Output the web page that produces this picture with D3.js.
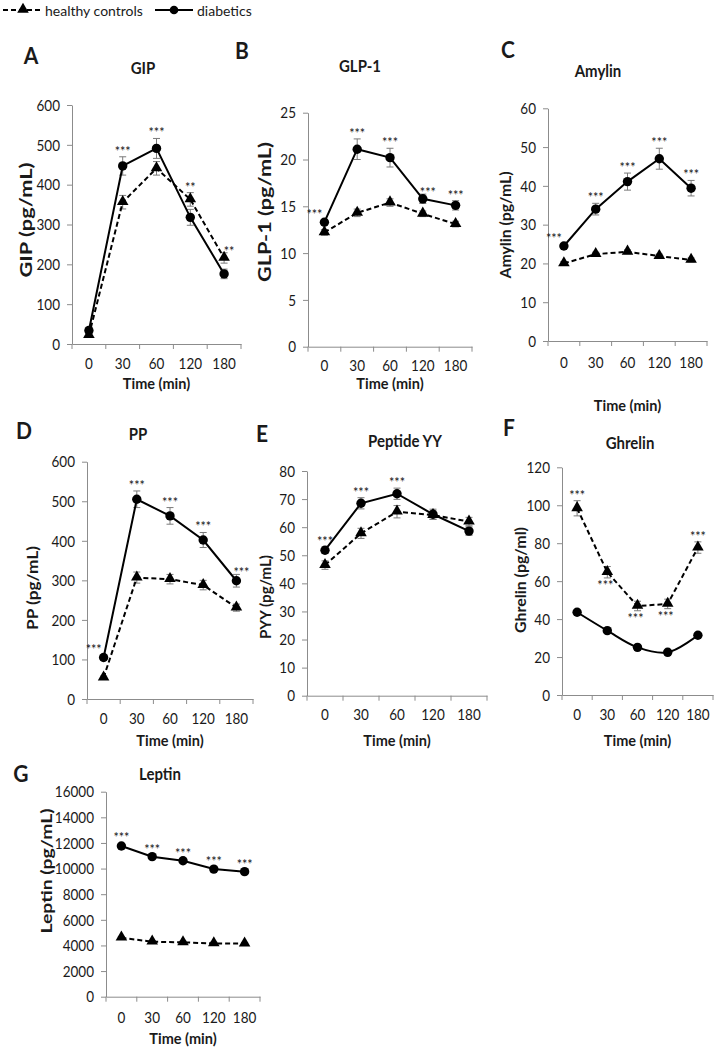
<!DOCTYPE html>
<html><head><meta charset="utf-8">
<script src="https://cdn.jsdelivr.net/npm/d3@7"></script>
<style>body{margin:0;background:#fff} svg{display:block} text{font-family:Lato,"Open Sans",sans-serif;fill:#1a1a1a}</style>
</head><body><svg id="c" width="719" height="1052"></svg>
<script>
const categories = ["0","30","60","120","180"];
const seriesNames = ["healthy controls","diabetics"];

// A: GIP
const gipDiabetics = [34,447,491,318,176];
const gipDiabeticsErr = [8,23,25,20,12];
const gipControls = [22,356,441,363,216];
const gipControlsErr = [5,17,17,17,13];
const gipStars = ["","***","***","**","**"];
const gipStarSeries = ["","d","d","c","c"];
const gipStarPlace = ["","above","above","above","ur"];
const gipTicks = [0,100,200,300,400,500,600];

// B: GLP-1
const glpDiabetics = [13.3,21.1,20.2,15.8,15.1];
const glpDiabeticsErr = [0.3,1.1,1.0,0.5,0.5];
const glpControls = [12.2,14.3,15.4,14.2,13.1];
const glpControlsErr = [0.3,0.4,0.4,0.3,0.3];
const glpStars = ["***","***","***","***","***"];
const glpStarSeries = ["d","d","d","d","d"];
const glpStarPlace = ["left","above","above","ur","above"];
const glpTicks = [0,5,10,15,20,25];

// C: Amylin
const amyDiabetics = [24.5,34,41.1,47,39.4];
const amyDiabeticsErr = [0.6,1.5,2.2,2.7,2.0];
const amyControls = [20,22.4,23,21.9,20.9];
const amyControlsErr = [0.5,0.5,0.5,0.5,0.5];
const amyStars = ["***","***","***","***","***"];
const amyStarSeries = ["d","d","d","d","d"];
const amyStarPlace = ["left","above","above","above","above"];
const amyTicks = [0,10,20,30,40,50,60];

// D: PP
const ppDiabetics = [105,505,463,402,299];
const ppDiabeticsErr = [6,21,21,19,16];
const ppControls = [54,307,303,288,231];
const ppControlsErr = [4,14,12,12,9];
const ppStars = ["***","***","***","***","***"];
const ppStarSeries = ["d","d","d","d","d"];
const ppStarPlace = ["left","above","above","above","ur"];
const ppTicks = [0,100,200,300,400,500,600];

// E: Peptide YY
const pyyDiabetics = [51.8,68.5,71.9,64.6,58.6];
const pyyDiabeticsErr = [1.2,2,2,1.8,1.5];
const pyyControls = [46.5,57.8,65.5,64.3,62];
const pyyControlsErr = [1.5,1.8,2.2,1.5,1.5];
const pyyStars = ["***","***","***","",""];
const pyyStarSeries = ["d","d","d","",""];
const pyyStarPlace = ["above","above","above","",""];
const pyyTicks = [0,10,20,30,40,50,60,70,80];

// F: Ghrelin
const ghrDiabetics = [43.6,33.9,25.1,22.5,31.5];
const ghrDiabeticsErr = [0.8,0.8,0.8,0.8,0.8];
const ghrControls = [98.4,64.7,46.9,48,77.7];
const ghrControlsErr = [4,3,2.5,2.5,3];
const ghrStars = ["***","***","***","***","***"];
const ghrStarSeries = ["c","c","c","c","c"];
const ghrStarPlace = ["above","below","below","below","above"];
const ghrTicks = [0,20,40,60,80,100,120];

// G: Leptin
const lepDiabetics = [11760,10930,10610,9960,9760];
const lepDiabeticsErr = [200,150,150,150,150];
const lepControls = [4600,4290,4240,4160,4140];
const lepControlsErr = [100,100,100,100,100];
const lepStars = ["***","***","***","***","***"];
const lepStarSeries = ["d","d","d","d","d"];
const lepStarPlace = ["above","above","above","above","above"];
const lepTicks = [0,2000,4000,6000,8000,10000,12000,14000,16000];

const panels = [
 {letter:"A",title:"GIP",ylab:"GIP (pg/mL)",d:gipDiabetics,de:gipDiabeticsErr,c:gipControls,ce:gipControlsErr,stars:gipStars,ss:gipStarSeries,sp:gipStarPlace,ticks:gipTicks,smooth:false,
  x0:72,x1:241,yTop:105,yBot:344,letterPos:[31,55],titlePos:[143,67],ylabPos:[25,220],ylabLen:115,ylabSize:17,timeY:383,labY:363},
 {letter:"B",title:"GLP-1",ylab:"GLP-1 (pg/mL)",d:glpDiabetics,de:glpDiabeticsErr,c:glpControls,ce:glpControlsErr,stars:glpStars,ss:glpStarSeries,sp:glpStarPlace,ticks:glpTicks,smooth:false,
  x0:308,x1:472,yTop:112.7,yBot:346.7,letterPos:[242,50],titlePos:[360,65],ylabPos:[265,212],ylabLen:140,ylabSize:16.5,timeY:383,labY:365},
 {letter:"C",title:"Amylin",ylab:"Amylin (pg/mL)",d:amyDiabetics,de:amyDiabeticsErr,c:amyControls,ce:amyControlsErr,stars:amyStars,ss:amyStarSeries,sp:amyStarPlace,ticks:amyTicks,smooth:false,
  x0:548,x1:707,yTop:108.3,yBot:341,letterPos:[508,49],titlePos:[598,70],ylabPos:[505,225],ylabLen:107,ylabSize:15,timeY:405,labY:362},
 {letter:"D",title:"PP",ylab:"PP (pg/mL)",d:ppDiabetics,de:ppDiabeticsErr,c:ppControls,ce:ppControlsErr,stars:ppStars,ss:ppStarSeries,sp:ppStarPlace,ticks:ppTicks,smooth:false,
  x0:87,x1:253,yTop:461.7,yBot:699,letterPos:[24,430],titlePos:[138,433],ylabPos:[32,588],ylabLen:84,ylabSize:15,timeY:740,labY:718},
 {letter:"E",title:"Peptide YY",ylab:"PYY (pg/mL)",d:pyyDiabetics,de:pyyDiabeticsErr,c:pyyControls,ce:pyyControlsErr,stars:pyyStars,ss:pyyStarSeries,sp:pyyStarPlace,ticks:pyyTicks,smooth:false,
  x0:307,x1:487,yTop:471,yBot:695.7,letterPos:[262,433],titlePos:[405,440],ylabPos:[265,597],ylabLen:84,ylabSize:15,timeY:740,labY:714},
 {letter:"F",title:"Ghrelin",ylab:"Ghrelin (pg/ml)",d:ghrDiabetics,de:ghrDiabeticsErr,c:ghrControls,ce:ghrControlsErr,stars:ghrStars,ss:ghrStarSeries,sp:ghrStarPlace,ticks:ghrTicks,smooth:true,
  x0:562,x1:713,yTop:467.3,yBot:695,letterPos:[509,427],titlePos:[630,442],ylabPos:[520,580],ylabLen:106,ylabSize:15,timeY:740,labY:714},
 {letter:"G",title:"Leptin",ylab:"Leptin (pg/mL)",d:lepDiabetics,de:lepDiabeticsErr,c:lepControls,ce:lepControlsErr,stars:lepStars,ss:lepStarSeries,sp:lepStarPlace,ticks:lepTicks,smooth:false,
  x0:106,x1:260,yTop:791.7,yBot:996.7,letterPos:[21,773],titlePos:[160,773],ylabPos:[45,871],ylabLen:125,ylabSize:16,timeY:1038,labY:1017}
];

const svg = d3.select("#c");
const AX = "#8c8c8c", ERR = "#7a7a7a";
const SY = 1.1;
function txt(g, s, x, y, opts) {
  const t = g.append("text").text(s)
    .attr("transform", `translate(${x},${y}) scale(1,${opts.sy || SY})` + (opts.rot ? " rotate(-90)" : ""))
    .attr("text-anchor", opts.anchor || "middle")
    .attr("dominant-baseline", opts.base || "central")
    .attr("font-size", opts.size || 12)
    .attr("font-weight", opts.bold ? "bold" : "normal");
  if (opts.len) t.attr("textLength", opts.len).attr("lengthAdjust", "spacingAndGlyphs");
  if (opts.fill) t.style("fill", opts.fill);
  return t;
}
const tri = d3.symbol().type(d3.symbolTriangle).size(58);

// legend
const lg = svg.append("g");
lg.append("line").attr("x1",3).attr("x2",42).attr("y1",10).attr("y2",10).attr("stroke","#000").attr("stroke-width",2).attr("stroke-dasharray","5,3");
lg.append("path").attr("d",tri).attr("transform","translate(23,9.5)").attr("fill","#000");
txt(lg, seriesNames[0], 45, 10, {anchor:"start", size:14, sy:1});
lg.append("line").attr("x1",155).attr("x2",193).attr("y1",10).attr("y2",10).attr("stroke","#000").attr("stroke-width",2);
lg.append("circle").attr("cx",174).attr("cy",10).attr("r",4.3).attr("fill","#000");
txt(lg, seriesNames[1], 197, 10, {anchor:"start", size:14, sy:1});

panels.forEach(p => {
  const g = svg.append("g");
  const x = d3.scaleBand().domain(categories).range([p.x0, p.x1]).padding(0);
  const y = d3.scaleLinear().domain([p.ticks[0], p.ticks[p.ticks.length-1]]).range([p.yBot, p.yTop]);
  const cx = c => x(c) + x.bandwidth()/2;

  // y axis
  const ya = g.append("g").attr("transform",`translate(${p.x0},0)`)
    .call(d3.axisLeft(y).tickValues(p.ticks).tickSize(5).tickSizeOuter(0).tickFormat(""));
  ya.selectAll("path,line").attr("stroke",AX).attr("stroke-width",1);
  p.ticks.forEach(v => txt(g, String(v), p.x0 - 12, y(v), {anchor:"end", size:13.5}));

  // x axis
  const xa = g.append("g").attr("transform",`translate(0,${p.yBot})`)
    .call(d3.axisBottom(x).tickSize(0).tickSizeOuter(0).tickFormat(""));
  xa.selectAll("path").attr("stroke",AX).attr("stroke-width",1);
  const bounds = categories.map(c => x(c)).concat([x.range()[1]]);
  g.selectAll(".xt").data(bounds).enter().append("line")
    .attr("x1",d=>d).attr("x2",d=>d).attr("y1",p.yBot).attr("y2",p.yBot+5)
    .attr("stroke",AX);
  categories.forEach(c => txt(g, c, cx(c), p.labY, {size:13.5}));
  txt(g, "Time (min)", (p.x0+p.x1)/2, p.timeY, {bold:true, size:14.5});

  // texts
  txt(g, p.letter, p.letterPos[0], p.letterPos[1], {bold:true, size:21});
  txt(g, p.title, p.titlePos[0], p.titlePos[1], {bold:true, size:15});
  txt(g, p.ylab, p.ylabPos[0], p.ylabPos[1], {bold:true, size:p.ylabSize, rot:true, sy:1, len:p.ylabLen});

  const series = [
    {vals:p.c, err:p.ce, dash:"5,3", key:"c", curve:d3.curveLinear},
    {vals:p.d, err:p.de, dash:null, key:"d", curve:p.smooth ? d3.curveCatmullRom : d3.curveLinear}
  ];
  // error bars
  series.forEach(s => {
    s.vals.forEach((v,i) => {
      const xx = cx(categories[i]);
      const e = s.err[i];
      g.append("line").attr("x1",xx).attr("x2",xx).attr("y1",y(v-e)).attr("y2",y(v+e)).attr("stroke",ERR).attr("stroke-width",1);
      [v-e, v+e].forEach(w => g.append("line").attr("x1",xx-3.5).attr("x2",xx+3.5).attr("y1",y(w)).attr("y2",y(w)).attr("stroke",ERR).attr("stroke-width",1));
    });
  });
  // lines & markers
  series.forEach(s => {
    const line = d3.line().x((v,i)=>cx(categories[i])).y(v=>y(v)).curve(s.curve);
    g.append("path").attr("d",line(s.vals)).attr("fill","none").attr("stroke","#000").attr("stroke-width",2)
      .attr("stroke-dasharray",s.dash);
    s.vals.forEach((v,i) => {
      if (s.key === "d") g.append("circle").attr("cx",cx(categories[i])).attr("cy",y(v)).attr("r",4.7).attr("fill","#000");
      else g.append("path").attr("d",tri).attr("transform",`translate(${cx(categories[i])},${y(v)-0.5})`).attr("fill","#000");
    });
  });
  // significance stars
  p.stars.forEach((st,i) => {
    if (!st) return;
    const isD = p.ss[i] === "d";
    const v = isD ? p.d[i] : p.c[i], e = isD ? p.de[i] : p.ce[i];
    const xx = cx(categories[i]);
    let tx = xx, ty = y(v+e) - 1, anchor = "middle";
    if (p.sp[i] === "left") { tx = xx - 2; ty = y(v) - 3; anchor = "end"; }
    else if (p.sp[i] === "ur") { tx = xx + 5; ty = y(v+e) + 3; }
    else if (p.sp[i] === "below") { tx = xx - 2; ty = y(v-e) + 12; }
    txt(g, st, tx, ty, {anchor, size:12.5, base:"alphabetic", sy:1, fill:"#111"});
  });
});
</script></body></html>
